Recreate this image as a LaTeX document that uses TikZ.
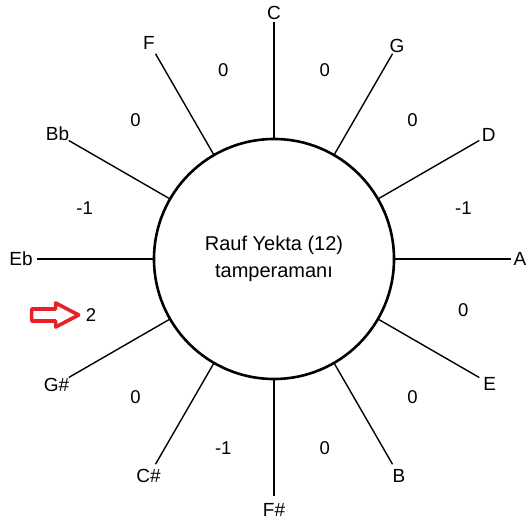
\documentclass[tikz,border=0pt]{standalone}
\usepackage{fontspec}
\setmainfont{Liberation Sans}
\usetikzlibrary{calc}
\definecolor{arrowred}{RGB}{232,32,40}
\begin{document}
\begin{tikzpicture}[x=1pt,y=1pt,
  spoke/.style={line width=1.4pt},
  note/.style={font=\fontsize{19}{22}\selectfont, inner sep=0pt},
  cents/.style={font=\fontsize{18.5}{22}\selectfont, inner sep=0pt},
  pointer/.style={draw=arrowred, line width=3.6pt, line join=round, fill=white},
]
\useasboundingbox (0,0) rectangle (526,526);
\node[circle, draw, line width=2.6pt, minimum size=240pt, inner sep=0pt, align=center,
      font=\fontsize{20}{27}\selectfont] (c) at (274,267) {Rauf Yekta (12)\\tamperamanı};
\foreach \a/\n/\t/\r in {90/C/C/246, 60/G/G/246, 30/D/D/248, 0/A/A/246,
    -30/E/E/249, -60/B/B/250, -90/Fs/F\#/251, -120/Cs/C\#/251,
    -150/Gs/G\#/251, 180/Eb/Eb/253, 150/Bb/Bb/250, 120/F/F/250} {
  \coordinate (e\n) at ($(c.center)+(\a:237)$);
  \draw[spoke] (c.\a) -- (e\n);
  \node[note] (l\n) at ($(c.center)+(\a:\r)$) {\t};
}
\foreach \a/\t in {105/0, 75/0, 45/0, 15/-1, -15/0, -45/0, -75/0, -105/-1,
    -135/0, 165/-1, 135/0} {
  \node[cents] (n\a) at ($(c.center)+(\a:196)$) {\t};
}
\node[cents] (two) at (91,211) {2};
\coordinate (tip) at ($(two.west)+(-7,0)$);
\draw[pointer] (tip) -- ++(-23,12) -- ++(0,-6) -- ++(-24,0) -- ++(0,-12)
  -- ++(24,0) -- ++(0,-6) -- cycle;
\end{tikzpicture}
\end{document}
